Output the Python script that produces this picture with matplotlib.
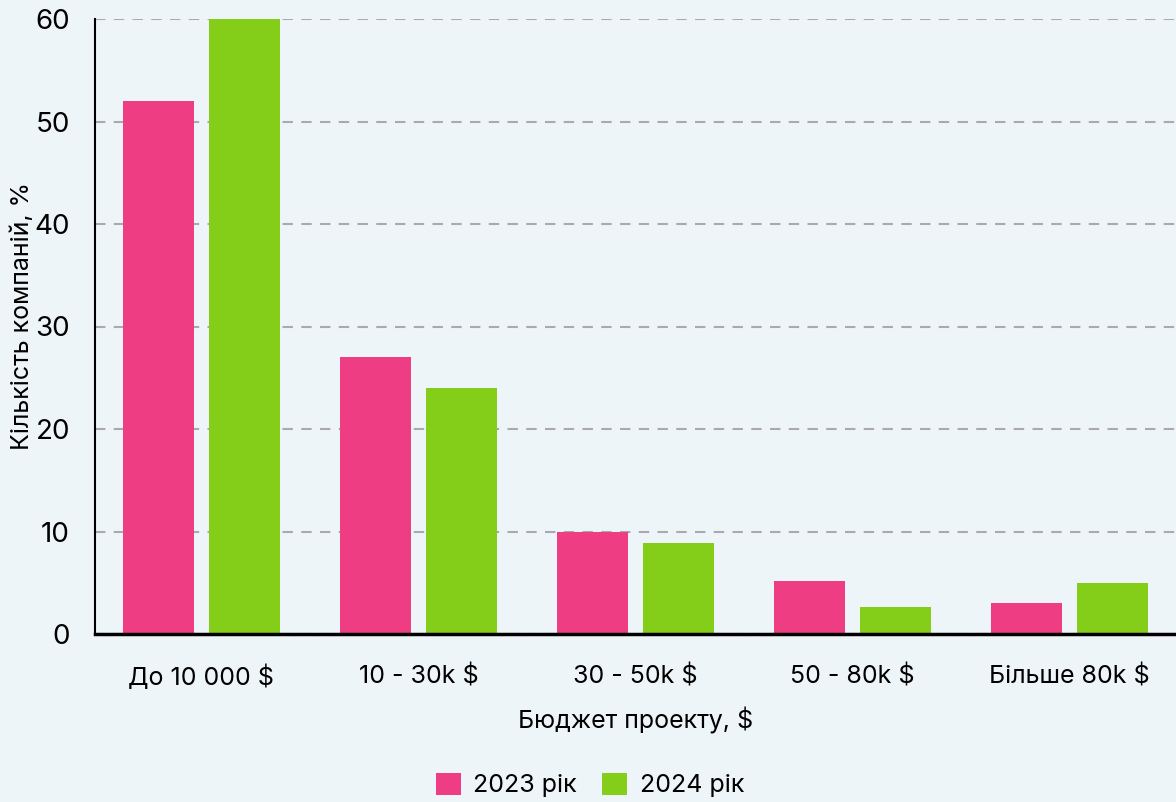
import numpy as np
import matplotlib.pyplot as plt

# categories and values (% of companies)
categories = ['До 10 000 $', '10 - 30k $', '30 - 50k $', '50 - 80k $', 'Більше 80k $']
values_2023 = [52, 27, 10, 5.2, 3]
values_2024 = [60, 24, 8.9, 2.6, 5]
series_names = ['2023 рік', '2024 рік']

bg = '#eef5f8'
pink = '#ee3d83'
green = '#84ce1a'

plt.rcParams['font.family'] = ['Inter', 'DejaVu Sans']

fig = plt.figure(figsize=(11.76, 8.02), dpi=100, facecolor=bg)
ax = fig.add_axes([95/1176, 1 - 634/802, 1 - 95/1176, (634 - 19)/802])
ax.set_facecolor(bg)

x = np.arange(len(categories))
w = 0.327
off = 0.198
ax.bar(x - off, values_2023, w, color=pink, label=series_names[0], zorder=3)
ax.bar(x + off, values_2024, w, color=green, label=series_names[1], zorder=3)

ax.set_xlim(-0.49, len(categories) - 0.51)
ax.set_ylim(0, 60)
ax.set_yticks(range(0, 61, 10))
ax.set_xticks(x)
ax.set_xticklabels(categories, fontsize=18)
ax.tick_params(axis='y', labelsize=20, length=0, pad=18)
ax.tick_params(axis='x', length=0, pad=22)

ax.grid(axis='y', color='#aaaaaa', lw=1.5, ls=(0, (5, 4)), zorder=0)
for s in ('top', 'right'):
    ax.spines[s].set_visible(False)
ax.spines['left'].set_linewidth(1.5)
ax.spines['bottom'].set_linewidth(2.5)
ax.spines['bottom'].set_zorder(4)

ax.set_xlabel('Бюджет проекту, $', fontsize=18, labelpad=12)
fig.text(22/1176, 1 - 316/802, 'Кількість компаній, %', rotation=90,
         fontsize=18, ha='center', va='center')

leg = fig.legend(loc='center', bbox_to_anchor=(590/1176, 1 - 785/802), ncol=2,
                 frameon=False, fontsize=18, handlelength=1.0, handleheight=1.0,
                 columnspacing=1.0, handletextpad=0.5)

plt.savefig('out.png', dpi=100, facecolor=bg)
